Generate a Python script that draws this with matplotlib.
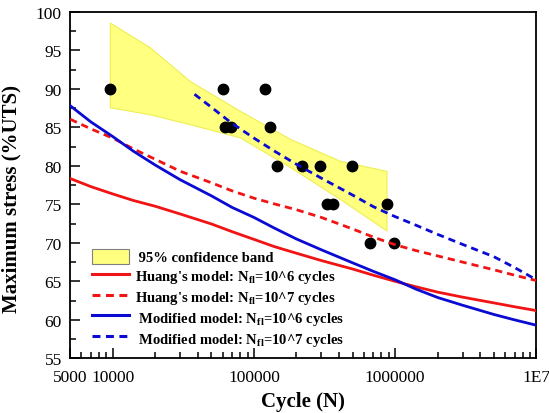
import matplotlib
matplotlib.use("Agg")
import matplotlib.pyplot as plt
from matplotlib.patches import Patch
from matplotlib.lines import Line2D
from matplotlib.ticker import NullFormatter, FixedLocator

# test results: cycles to failure / max stress (%UTS)
TEST_CYCLES = [9530, 60400, 119400, 62100, 69300, 130900, 144500, 217300,
               292400, 491000, 329600, 363900, 868900, 662200, 979000]
TEST_STRESS = [90, 90, 90, 85, 85, 85, 80, 80,
               80, 80, 75, 75, 75, 70, 70]

# 95% confidence band edges
BAND_CYCLES = [9530, 18300, 35200, 79400, 180000, 406000, 868000]
BAND_UPPER = [98.6, 95.4, 91.0, 87.15, 83.5, 80.65, 79.35]
BAND_LOWER = [87.6, 86.7, 85.4, 83.7, 79.85, 75.7, 71.6]

# model curves
MODEL_CYCLES = [5000, 7000, 1e4, 1.4e4, 2e4, 3e4, 5e4, 7e4, 1e5, 1.4e5, 2e5, 3e5,
                5e5, 7e5, 1e6, 1.4e6, 2e6, 3e6, 5e6, 7e6, 1e7]
HUANG_6 = [78.35, 77.3, 76.35, 75.5, 74.75, 73.75, 72.45, 71.45, 70.45, 69.5, 68.65, 67.7,
           66.6, 65.8, 65.0, 64.3, 63.6, 62.95, 62.2, 61.7, 61.2]
HUANG_7 = [86.05, 84.8, 83.6, 82.2, 80.85, 79.3, 77.8, 76.75, 75.8, 75.05, 74.3, 73.3,
           71.8, 70.75, 69.75, 69.0, 68.3, 67.5, 66.5, 65.8, 65.1]
MODIFIED_6 = [87.8, 85.7, 83.8, 81.9, 80.1, 78.2, 76.1, 74.6, 73.3, 71.9, 70.5, 69.1,
              67.4, 66.3, 65.2, 64.0, 62.9, 61.9, 60.7, 60.0, 59.3]

MODIFIED_7_CYCLES = [37900, 50000, 68900, 1e5, 1.4e5, 2e5, 3e5, 5e5, 7e5, 1e6,
                     1.4e6, 2e6, 3e6, 5e6, 7e6, 1e7]
MODIFIED_7 = [89.3, 87.6, 85.6, 83.6, 81.9, 80.2, 78.4, 76.2, 74.7, 73.4,
              72.3, 71.1, 69.8, 68.2, 66.8, 65.2]

XTICKS = [5000, 1e4, 1e5, 1e6, 1e7]
XTICK_LABELS = ["5000", "10000", "100000", "1000000", "1E7"]

RED = "#f01414"
BLUE = "#0a0ad2"
YELLOW = "#ffff80"

plt.rcParams["font.family"] = ["Liberation Serif", "DejaVu Serif"]
plt.rcParams["mathtext.fontset"] = "custom"
plt.rcParams["mathtext.rm"] = "Liberation Serif"
plt.rcParams["mathtext.bf"] = "Liberation Serif:bold"


def main():
	fig = plt.figure(figsize=(5.49, 4.14), dpi=100)
	ax = fig.add_axes([0.128, 0.132, 0.849, 0.837])

	ax.fill_between(BAND_CYCLES, BAND_LOWER, BAND_UPPER, facecolor=YELLOW,
					edgecolor="#eeee55", linewidth=0.8, zorder=1)
	ax.plot(TEST_CYCLES, TEST_STRESS, "o", color="black", markersize=7.5, zorder=2)

	ax.plot(MODEL_CYCLES, HUANG_6, color=RED, lw=2, zorder=3)
	ax.plot(MODEL_CYCLES, HUANG_7, color=RED, lw=2, dashes=(2.6, 1.8), zorder=3)
	ax.plot(MODEL_CYCLES, MODIFIED_6, color=BLUE, lw=2, zorder=3)
	ax.plot(MODIFIED_7_CYCLES, MODIFIED_7, color=BLUE, lw=2, dashes=(2.6, 1.8), zorder=3)

	ax.set_xscale("log")
	ax.set_xlim(5000, 1e7)
	ax.set_ylim(55, 100)
	ax.xaxis.set_major_locator(FixedLocator(XTICKS))
	ax.set_xticklabels(XTICK_LABELS)
	ax.xaxis.set_minor_formatter(NullFormatter())
	ax.set_yticks(range(55, 101, 5))
	ax.set_yticks([57.5 + 5 * i for i in range(9)], minor=True)

	ax.tick_params(which="both", direction="in", labelsize=12.5, width=1.1)
	ax.tick_params(which="major", length=7)
	ax.tick_params(which="minor", length=4.5)
	ax.tick_params(axis="x", pad=8)
	ax.tick_params(axis="y", pad=6)
	for s in ax.spines.values():
		s.set_linewidth(1.3)

	ax.set_xlabel("Cycle (N)", fontsize=15, fontweight="bold", labelpad=4)
	ax.set_ylabel("Maximum stress (%UTS)", fontsize=15, fontweight="bold")
	# y label sits a bit below the axis centre
	ax.yaxis.set_label_coords(-0.105, 0.462)

	nfl = r"N$_{\mathbf{fl}}$"
	handles = [
		Patch(facecolor=YELLOW, edgecolor="#808080", linewidth=0.8),
		Line2D([], [], color=RED, lw=2.2),
		Line2D([], [], color=RED, lw=2.2, dashes=(2.6, 1.8)),
		Line2D([], [], color=BLUE, lw=2.2),
		Line2D([], [], color=BLUE, lw=2.2, dashes=(2.6, 1.8)),
	]
	labels = [
		" 95% confidence band",
		"Huang's model: " + nfl + "=10^6 cycles",
		"Huang's model: " + nfl + "=10^7 cycles",
		" Modified model: " + nfl + "=10^6 cycles",
		" Modified model: " + nfl + "=10^7 cycles",
	]
	ax.legend(handles, labels, loc="lower left", bbox_to_anchor=(0.03, 0.01),
			  frameon=False, prop={"weight": "bold", "size": 10.5},
			  handlelength=2.6, handleheight=1.25, handletextpad=0.4,
			  labelspacing=0.22, borderaxespad=0.2, borderpad=0.3)

	fig.savefig("out.png", dpi=100)


if __name__ == '__main__':
	main()
